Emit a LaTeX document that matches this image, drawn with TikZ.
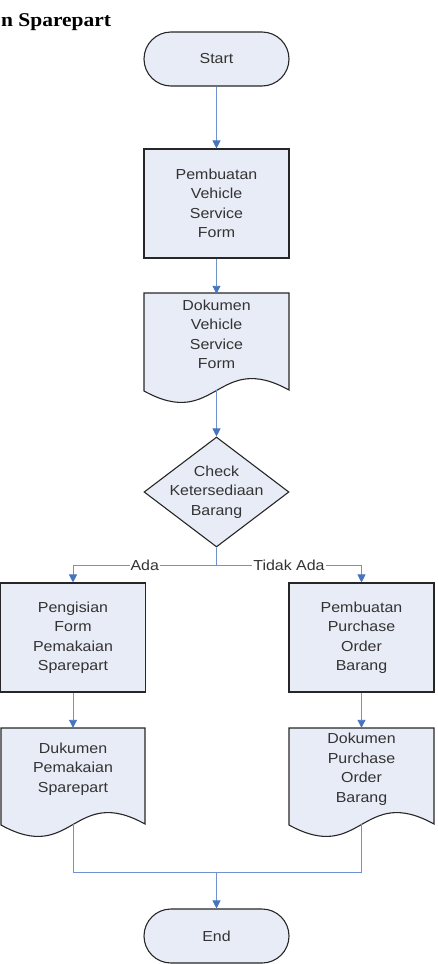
\documentclass[tikz,border=0pt]{standalone}
\usepackage{fontspec}
\setmainfont{Liberation Sans}[FakeStretch=1.1]
\newfontfamily\titlefont{Liberation Serif}[FakeStretch=1.1]
\usetikzlibrary{shapes.geometric,arrows.meta}
\definecolor{boxfill}{HTML}{E8ECF6}
\definecolor{lineblue}{HTML}{6E92CE}
\definecolor{arrowblue}{HTML}{4674C0}
\newcommand\fsz{\fontsize{14.5}{19.5}\selectfont}
\begin{document}
\begin{tikzpicture}[x=1pt,y=-1pt,
  shapeline/.style={draw=black!85, line width=1.1pt, fill=boxfill},
  proc/.style={shapeline, minimum width=145pt, minimum height=109pt, inner sep=0pt, align=center, font=\fsz, text=black!80},
  term/.style={shapeline, rounded corners=27pt, minimum width=145pt, minimum height=54pt, inner sep=0pt, font=\fsz, text=black!80},
  docbody/.style={minimum width=145pt, minimum height=96pt, inner sep=0pt},
  doctext/.style={align=center, font=\fsz, inner sep=0pt, text=black!80},
  conn/.style={draw=lineblue, line width=0.9pt},
  arr/.style={conn, -{Triangle[length=8pt,width=8pt,color=arrowblue]}},
  lbl/.style={fill=white, inner sep=1pt, font=\fsz, text=black!80}]
\useasboundingbox (0,0) rectangle (437,964);

% title
\node[anchor=base west, inner sep=0pt, font=\titlefont\bfseries\fontsize{19.5}{24}\selectfont] (title) at (1,26) {n Sparepart};

% start
\node[term] (start) at (216.5,59) {Start};

% process 1
\node[proc] (b1) at (216.5,203.5) {Pembuatan\\Vehicle\\Service\\Form};

% document 1
\draw[shapeline] (144,293) -- (289,293) -- (289,390) .. controls (216.5,350) and (216.5,431) .. (144,391) -- cycle;
\node[docbody] (d1) at (216.5,342) {};
\node[doctext] (d1t) at (216.5,334.5) {Dokumen\\Vehicle\\Service\\Form};

% decision
\node[shapeline, diamond, minimum width=145pt, minimum height=110pt, inner sep=0pt] (dec) at (216.5,492) {};
\node[doctext] (dect) at (216.5,492) {Check\\Ketersediaan\\Barang};

% left branch
\node[proc] (b2) at (73,637.5) {Pengisian\\Form\\Pemakaian\\Sparepart};
\draw[shapeline] (1,728) -- (145,728) -- (145,824) .. controls (73,784) and (73,865) .. (1,825) -- cycle;
\node[docbody] (d2) at (73,776) {};
\node[doctext] (d2t) at (73,769) {Dukumen\\Pemakaian\\Sparepart};

% right branch
\node[proc] (b3) at (361.5,637.5) {Pembuatan\\Purchase\\Order\\Barang};
\draw[shapeline] (289,728) -- (434,728) -- (434,824) .. controls (361.5,784) and (361.5,865) .. (289,825) -- cycle;
\node[docbody] (d3) at (361.5,776) {};
\node[doctext] (d3t) at (361.5,769) {Dokumen\\Purchase\\Order\\Barang};

% end
\node[term] (end) at (216.5,936) {End};

% connectors
\coordinate (split) at (216.5,565);
\coordinate (merge) at (216.5,872);
\draw[arr] (start.south) -- (b1.north);
\draw[arr] (b1.south) -- (d1.north);
\draw[arr] (d1.south) -- (dec.north);
\draw[conn] (dec.south) -- (split);
\draw[arr] (split) -- node[lbl] {Ada} (split -| b2.north) -- (b2.north);
\draw[arr] (split) -- node[lbl] {Tidak Ada} (split -| b3.north) -- (b3.north);
\draw[arr] (b2.south) -- (d2.north);
\draw[arr] (b3.south) -- (d3.north);
\draw[conn] (d2.south) |- (merge);
\draw[conn] (d3.south) |- (merge);
\draw[arr] (merge) -- (end.north);
\end{tikzpicture}
\end{document}
